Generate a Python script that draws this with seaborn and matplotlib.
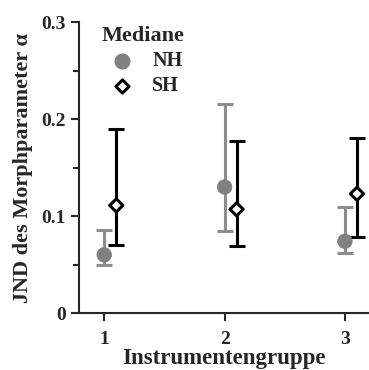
import numpy as np
import pandas as pd
import matplotlib
matplotlib.use("Agg")
import matplotlib.pyplot as plt
from matplotlib.ticker import MultipleLocator
import seaborn as sns

# median JND values and interval bounds
groups = [1, 2, 3]
nh_median = [0.060, 0.130, 0.074]
nh_low = [0.050, 0.085, 0.062]
nh_high = [0.086, 0.216, 0.109]
sh_median = [0.111, 0.107, 0.123]
sh_low = [0.070, 0.069, 0.078]
sh_high = [0.190, 0.177, 0.181]

sns.set_style("ticks")
plt.rcParams["font.family"] = ["Liberation Serif", "DejaVu Serif"]
plt.rcParams["font.weight"] = "bold"

df = pd.DataFrame({
    "Gruppe": groups * 2,
    "JND": nh_median + sh_median,
    "low": nh_low + sh_low,
    "high": nh_high + sh_high,
    "Hoerer": ["NH"] * 3 + ["SH"] * 3,
})
df["x"] = df["Gruppe"] + np.where(df["Hoerer"] == "SH", 0.1, 0.0)

fig = plt.figure(figsize=(3.69, 3.70), dpi=100)
ax = fig.add_axes([0.214, 0.154, 0.786, 0.786])

styles = {"NH": dict(ecolor="#8c8c8c"), "SH": dict(ecolor="black")}

for name, sub in df.groupby("Hoerer"):
    ax.errorbar(sub["x"], sub["JND"],
                yerr=[sub["JND"] - sub["low"], sub["high"] - sub["JND"]],
                fmt="none", ecolor=styles[name]["ecolor"], elinewidth=2.2,
                capsize=6, capthick=2.2, zorder=2)

sns.scatterplot(data=df, x="x", y="JND", hue="Hoerer", style="Hoerer",
                palette={"NH": "#808080", "SH": "black"},
                markers={"NH": "o", "SH": "D"}, s=80, ax=ax, zorder=3, legend=False)
# give the diamonds an open face
coll = ax.collections[-1]
coll.set_facecolor(["#808080" if h == "NH" else "white" for h in df["Hoerer"]])
coll.set_edgecolor(["#808080" if h == "NH" else "black" for h in df["Hoerer"]])
coll.set_linewidth([0.5 if h == "NH" else 2.2 for h in df["Hoerer"]])
coll.set_sizes([110 if h == "NH" else 45 for h in df["Hoerer"]])

h_nh = ax.scatter([], [], marker="o", s=110, color="#808080")
h_sh = ax.scatter([], [], marker="D", s=45, facecolor="white", edgecolor="black", linewidth=2.2)
leg = ax.legend([h_nh, h_sh], ["NH", "SH"], title="Mediane", frameon=False,
                loc="upper left", bbox_to_anchor=(0.03, 1.035), fontsize=14.5,
                title_fontsize=16, handletextpad=0.5, labelspacing=0.25,
                borderaxespad=0.3)
leg.get_title().set_fontweight("bold")
leg._legend_box.align = "left"

ax.set_xlim(0.79, 3.2)
ax.set_ylim(0, 0.3)
ax.set_xticks(groups)
ax.set_xticklabels([str(g) for g in groups])
ax.set_yticks([0, 0.1, 0.2, 0.3])
ax.set_yticklabels(["0", "0.1", "0.2", "0.3"])
ax.yaxis.set_minor_locator(MultipleLocator(0.05))
ax.tick_params(axis="both", labelsize=14, width=1.5, length=6, direction="out")
ax.tick_params(axis="x", pad=7)
ax.tick_params(axis="y", which="minor", width=1.5, length=4)
for lab in ax.get_xticklabels() + ax.get_yticklabels():
    lab.set_fontweight("bold")
ax.set_xlabel("Instrumentengruppe", fontsize=16.5, fontweight="bold", labelpad=0)
ax.set_ylabel("JND des Morphparameter α", fontsize=16, fontweight="bold", labelpad=6)
sns.despine(ax=ax)
for s in ["left", "bottom"]:
    ax.spines[s].set_linewidth(1.5)

fig.savefig("out.png", dpi=100)
